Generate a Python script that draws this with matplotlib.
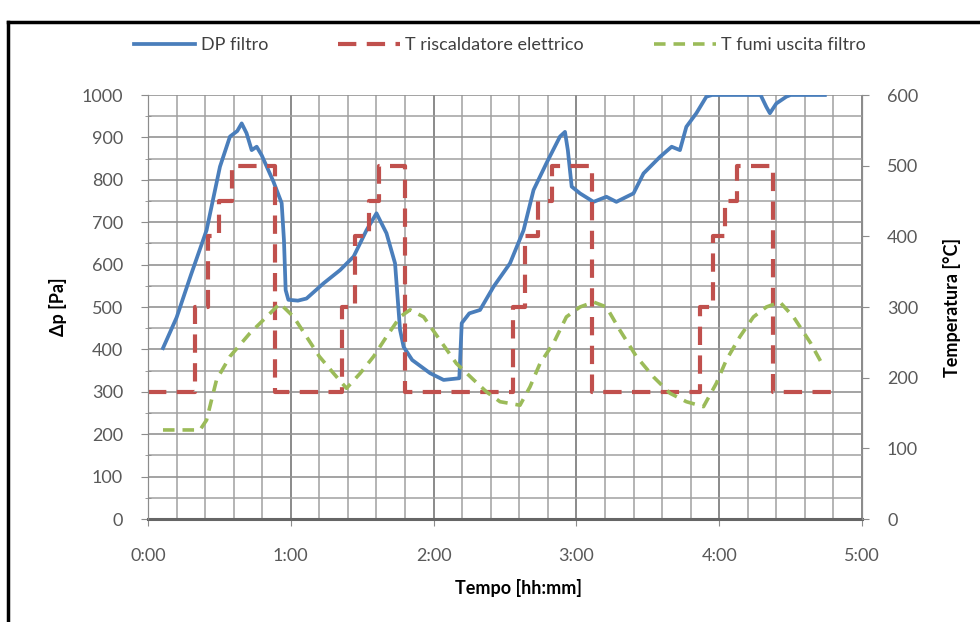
import matplotlib
matplotlib.use("Agg")
import matplotlib.pyplot as plt
from matplotlib.ticker import MultipleLocator, FuncFormatter
from matplotlib.lines import Line2D

plt.rcParams['font.family'] = ['Lato', 'DejaVu Sans']

# Pressure drop across the filter (time in hours, Pa)
dp_time = [0.105, 0.20, 0.30, 0.41, 0.504, 0.574, 0.625, 0.656, 0.69, 0.726,
           0.761, 0.796, 0.878, 0.936, 0.952, 0.964, 0.983, 1.05, 1.11, 1.23,
           1.345, 1.44, 1.53, 1.60, 1.67, 1.73, 1.765, 1.79, 1.85, 1.975,
           2.07, 2.18, 2.197, 2.25, 2.325, 2.42, 2.535, 2.63, 2.70, 2.79,
           2.885, 2.92, 2.94, 2.967, 3.025, 3.12, 3.21, 3.28, 3.40, 3.47,
           3.585, 3.667, 3.725, 3.77, 3.84, 3.91, 3.95, 4.29, 4.33, 4.355,
           4.40, 4.47, 4.50, 4.74]
dp_pa = [403, 475, 575, 681, 831, 902, 915, 933, 910, 870,
         878, 858, 796, 745, 658, 540, 517, 515, 520, 556,
         587, 619, 681, 721, 674, 603, 446, 406, 375, 344,
         328, 332, 462, 485, 493, 548, 603, 681, 776, 839,
         902, 913, 870, 784, 768, 748, 760, 748, 768, 815,
         854, 878, 870, 925, 957, 996, 1000, 1000, 972, 957,
         980, 996, 1000, 1000]

# Electric heater set-point (step profile, °C)
heater_time = [0.0, 0.33, 0.42, 0.50, 0.59, 0.89, 1.36, 1.45, 1.55, 1.62,
               1.80, 2.556, 2.64, 2.73, 2.83, 3.11, 3.865, 3.957, 4.04, 4.125,
               4.377, 4.85]
heater_temp = [180, 300, 400, 450, 500, 180, 300, 400, 450, 500,
               180, 300, 400, 450, 500, 180, 300, 400, 450, 500,
               180, 180]

# Flue gas temperature at filter outlet (°C)
gas_time = [0.105, 0.364, 0.41, 0.48, 0.574, 0.714, 0.83, 0.924, 1.02, 1.11,
            1.20, 1.30, 1.39, 1.485, 1.58, 1.67, 1.765, 1.835, 1.93, 2.045,
            2.16, 2.28, 2.37, 2.465, 2.605, 2.675, 2.745, 2.84, 2.93, 3.025,
            3.12, 3.21, 3.305, 3.42, 3.54, 3.655, 3.77, 3.89, 3.98, 4.05,
            4.145, 4.24, 4.33, 4.425, 4.52, 4.64, 4.73]
gas_temp = [126, 126, 140, 197, 230, 263, 286, 305, 286, 258,
            230, 206, 185, 206, 230, 258, 286, 296, 286, 253,
            220, 197, 180, 166, 161, 187, 220, 249, 286, 300,
            307, 300, 267, 230, 201, 178, 166, 159, 192, 225,
            258, 286, 300, 307, 286, 249, 216]

labels = ["DP filtro", "T riscaldatore elettrico", "T fumi uscita filtro"]

W, H = 980, 622
fig = plt.figure(figsize=(W / 100, H / 100), dpi=100)
fig.patch.set_facecolor('white')

x0, x1, y0, y1 = 148, 862, 95, 519
ax = fig.add_axes([x0 / W, 1 - y1 / H, (x1 - x0) / W, (y1 - y0) / H])
ax2 = ax.twinx()

tick_color = '#595959'
fs = 13

# primary axis: pressure
ax.set_xlim(0, 5)
ax.set_ylim(0, 1000)
ax.xaxis.set_major_locator(MultipleLocator(1))
ax.xaxis.set_minor_locator(MultipleLocator(0.2))
ax.yaxis.set_major_locator(MultipleLocator(100))
ax.yaxis.set_minor_locator(MultipleLocator(50))
ax.xaxis.set_major_formatter(FuncFormatter(lambda v, p: f"{int(round(v))}:00"))

ax.grid(which='major', axis='x', color='#777777', lw=1.2)
ax.grid(which='minor', axis='x', color='#a0a0a0', lw=1.1)
ax.grid(which='major', axis='y', color='#939393', lw=1.2)
ax.grid(which='minor', axis='y', color='#a0a0a0', lw=1.1)
ax.set_axisbelow(True)

for side in ('left', 'right'):
    ax.spines[side].set_color('#8c8c8c')
    ax2.spines[side].set_color('#8c8c8c')
ax.spines['top'].set_visible(False)
ax2.spines['top'].set_visible(False)
ax.spines['bottom'].set_color('#666666')
ax.spines['bottom'].set_linewidth(2.2)
ax2.spines['bottom'].set_visible(False)

ax.tick_params(axis='both', which='major', direction='out', length=5,
               color='#8c8c8c', labelcolor=tick_color, labelsize=fs)
ax.tick_params(axis='y', which='minor', direction='inout', length=5,
               color='#8c8c8c')
ax.tick_params(axis='x', which='minor', length=0)
ax.tick_params(axis='x', which='major', pad=16)
ax.tick_params(axis='y', which='major', pad=13)

ax.plot(dp_time, dp_pa, color='#4A7EBB', lw=2.7, solid_joinstyle='round',
        label=labels[0], zorder=3)

# secondary axis: temperature
ax2.set_ylim(0, 600)
ax2.yaxis.set_major_locator(MultipleLocator(100))
ax2.tick_params(axis='y', which='major', direction='out', length=5,
                color='#8c8c8c', labelcolor=tick_color, labelsize=fs, pad=13)

ax2.plot(heater_time, heater_temp, drawstyle='steps-post', color='#C0504D',
         lw=3.0, dashes=(4.4, 2.5), label=labels[1])
ax2.plot(gas_time, gas_temp, color='#9BBB59', lw=2.6, dashes=(3.2, 2.2),
         label=labels[2])

ax.set_xlabel("Tempo [hh:mm]", fontsize=fs, fontweight='bold')
ax.set_ylabel("Δp [Pa]", fontsize=fs, fontweight='bold')
ax2.set_ylabel("Temperatura [°C]", fontsize=fs, fontweight='bold')
pw, ph = x1 - x0, y1 - y0
ax.xaxis.set_label_coords((518 - x0) / pw, -(588 - y1) / ph)
ax.xaxis.label.set_va('center')
ax.yaxis.set_label_coords(-(x0 - 58) / pw, 0.5)
ax.yaxis.label.set_va('center')
ax2.yaxis.set_label_coords((952 - x0) / pw, 0.5)
ax2.yaxis.label.set_va('center')

handles = [
    Line2D([], [], color='#4A7EBB', lw=2.7),
    Line2D([], [], color='#C0504D', lw=3.0, dashes=(4.4, 2.5)),
    Line2D([], [], color='#9BBB59', lw=2.6, dashes=(3.2, 2.2)),
]
fig.legend(handles, labels, loc='center', bbox_to_anchor=(0.51, 1 - 45 / H),
           ncol=3, frameon=False, fontsize=fs, handlelength=3.4,
           columnspacing=3.9, handletextpad=0.3, labelcolor='#404040')

# outer frame
fig.add_artist(Line2D([8 / W, 8 / W], [0, 1 - 22 / H], color='black', lw=2.5,
                      transform=fig.transFigure))
fig.add_artist(Line2D([8 / W, 1], [1 - 22 / H, 1 - 22 / H], color='black', lw=2.5,
                      transform=fig.transFigure))

fig.savefig('out.png', dpi=100)
